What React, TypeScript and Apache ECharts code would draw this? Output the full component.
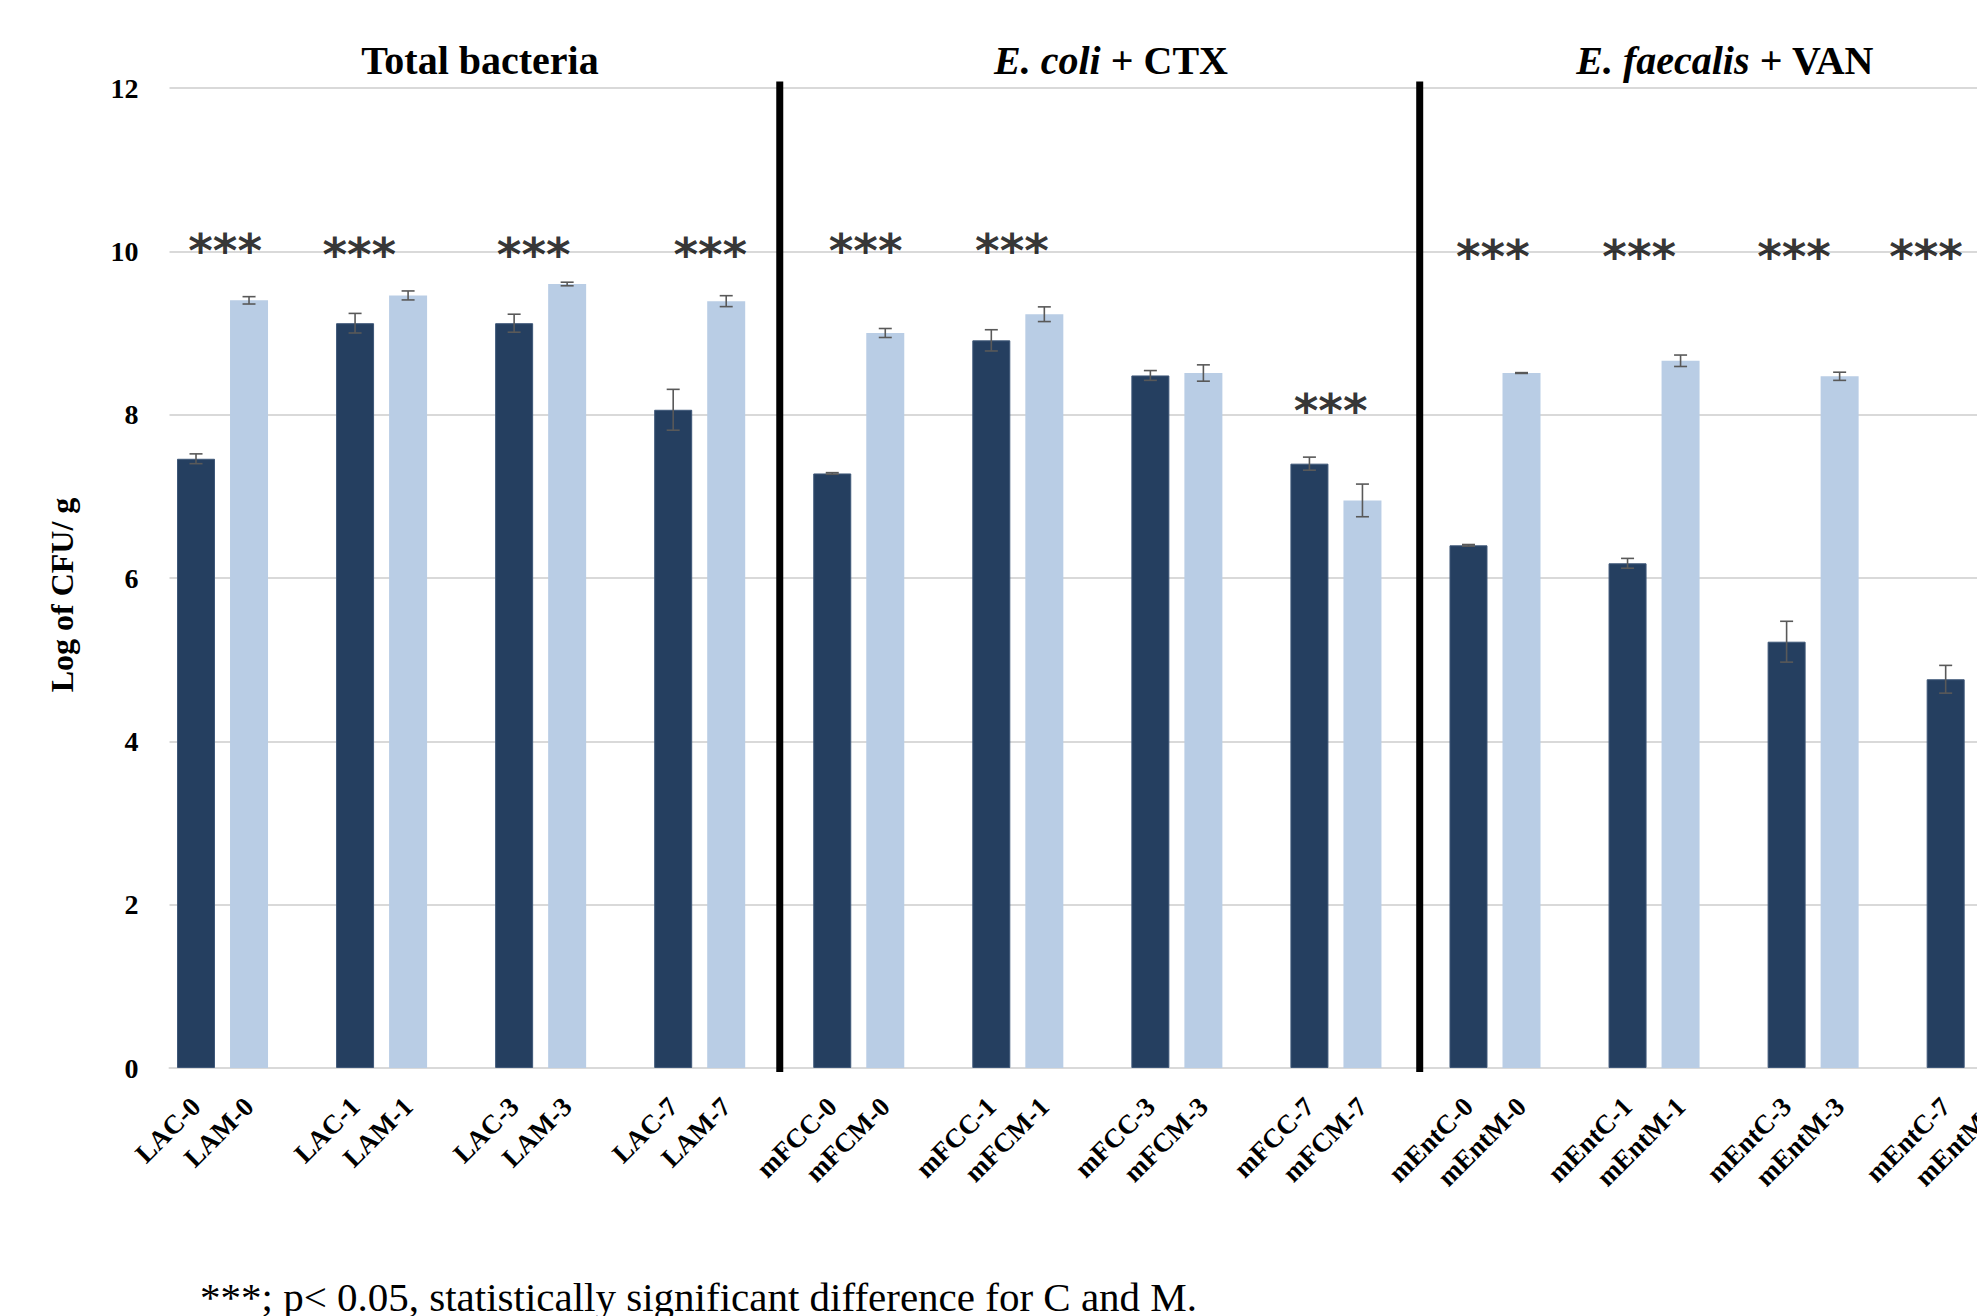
import React, { useEffect, useRef } from "react";
import * as echarts from "echarts";

const cLabels = ["LAC-0", "LAC-1", "LAC-3", "LAC-7", "mFCC-0", "mFCC-1", "mFCC-3", "mFCC-7", "mEntC-0", "mEntC-1", "mEntC-3", "mEntC-7"];
const mLabels = ["LAM-0", "LAM-1", "LAM-3", "LAM-7", "mFCM-0", "mFCM-1", "mFCM-3", "mFCM-7", "mEntM-0", "mEntM-1", "mEntM-3", "mEntM-7"];
const cValues = [7.46, 9.12, 9.12, 8.06, 7.28, 8.91, 8.48, 7.40, 6.40, 6.18, 5.22, 4.76];
const cErrors = [0.06, 0.12, 0.11, 0.25, 0.01, 0.13, 0.06, 0.08, 0.01, 0.06, 0.25, 0.17];
const mValues = [9.40, 9.46, 9.60, 9.39, 9.00, 9.23, 8.51, 6.95, 8.51, 8.66, 8.47, 8.45];
const mErrors = [0.045, 0.055, 0.022, 0.067, 0.055, 0.09, 0.1, 0.2, 0.005, 0.07, 0.05, 0.05];
// significance marks: x in slot units, y in log units
const starX = [1.05, 3.58, 6.87, 10.2, 13.13, 15.89, 21.9, 24.96, 27.72, 30.64, 33.13];
const starY = [10.11, 10.06, 10.06, 10.06, 10.11, 10.11, 8.15, 10.03, 10.03, 10.03, 10.03];
const separators = [11.51, 23.58];
const yTicks = { min: 0, max: 12, interval: 2 };

const SERIF = "'Liberation Serif', 'Times New Roman', serif";

export default function App() {
  const ref = useRef<HTMLDivElement>(null);
  useEffect(() => {
    if (!ref.current) return;
    const chart = echarts.init(ref.current, undefined, { renderer: "svg" });

    const categories: string[] = [];
    const darkData: (number | null)[] = [];
    const lightData: (number | null)[] = [];
    const errData: number[][] = [];
    cLabels.forEach((c, g) => {
      categories.push(c, mLabels[g], "");
      darkData.push(cValues[g], null, null);
      lightData.push(null, mValues[g], null);
      errData.push([g * 3, cValues[g] - cErrors[g], cValues[g] + cErrors[g]]);
      errData.push([g * 3 + 1, mValues[g] - mErrors[g], mValues[g] + mErrors[g]]);
    });
    const slotW = 53.02;

    const option: any = {
      animation: false,
      backgroundColor: "#ffffff",
      grid: { left: 169.5, top: 88, width: slotW * categories.length, height: 980, containLabel: false },
      xAxis: [
        {
          type: "category",
          data: categories,
          axisLine: { show: true, lineStyle: { color: "#D9D9D9", width: 2 } },
          axisTick: { show: false },
          axisLabel: {
            interval: 0,
            rotate: 45,
            margin: 34,
            fontFamily: SERIF,
            fontWeight: "bold",
            fontSize: 27,
            color: "#000",
          },
        },
        { type: "value", min: 0, max: categories.length, show: false },
      ],
      yAxis: {
        type: "value",
        min: yTicks.min,
        max: yTicks.max,
        interval: yTicks.interval,
        axisLine: { show: false },
        axisTick: { show: false },
        splitLine: { lineStyle: { color: "#D9D9D9", width: 2 } },
        axisLabel: { margin: 31, fontFamily: SERIF, fontWeight: "bold", fontSize: 28, color: "#000" },
      },
      series: [
        {
          type: "bar",
          name: "C",
          data: darkData,
          barWidth: 38,
          barGap: "-100%",
          itemStyle: { color: "#253F60", borderColor: "#3E5778", borderWidth: 1 },
          silent: true,
        },
        {
          type: "bar",
          name: "M",
          data: lightData,
          barWidth: 38,
          barGap: "-100%",
          itemStyle: { color: "#B9CDE5" },
          silent: true,
        },
        {
          type: "custom",
          name: "err",
          data: errData,
          encode: { x: 0, y: [1, 2] },
          silent: true,
          z: 5,
          renderItem: (params: any, api: any) => {
            const x = api.value(0);
            const p1 = api.coord([x, api.value(1)]);
            const p2 = api.coord([x, api.value(2)]);
            const cap = 6.5;
            const st = { stroke: "#595959", lineWidth: 1.6 };
            return {
              type: "group",
              children: [
                { type: "line", shape: { x1: p1[0], y1: p1[1], x2: p2[0], y2: p2[1] }, style: st },
                { type: "line", shape: { x1: p1[0] - cap, y1: p1[1], x2: p1[0] + cap, y2: p1[1] }, style: st },
                { type: "line", shape: { x1: p2[0] - cap, y1: p2[1], x2: p2[0] + cap, y2: p2[1] }, style: st },
              ],
            };
          },
        },
        {
          type: "scatter",
          name: "stars",
          xAxisIndex: 1,
          data: starX.map((x, i) => [x, starY[i]]),
          symbol: "circle",
          symbolSize: 1,
          itemStyle: { color: "rgba(0,0,0,0)" },
          silent: true,
          label: {
            show: true,
            position: "inside",
            formatter: "***",
            fontFamily: "'DejaVu Sans', sans-serif",
            fontWeight: "bold",
            fontSize: 47,
            color: "#000",
            offset: [0, 8],
          },
        },
        ...separators.map((s) => ({
          type: "line",
          xAxisIndex: 1,
          data: [
            [s, -0.05],
            [s, 12.08],
          ],
          clip: false,
          symbol: "none",
          silent: true,
          z: 6,
          lineStyle: { color: "#000", width: 7 },
        })),
      ],
      graphic: [
        {
          type: "text",
          x: 480,
          y: 60,
          style: { text: "Total bacteria", font: `bold 40px ${SERIF}`, fill: "#000", align: "center", verticalAlign: "middle" },
        },
        {
          type: "text",
          x: 1111,
          y: 60,
          style: {
            text: "{i|E. coli} + CTX",
            font: `bold 40px ${SERIF}`,
            fill: "#000",
            align: "center",
            verticalAlign: "middle",
            rich: { i: { fontStyle: "italic", fontWeight: "bold", fontSize: 40, fontFamily: SERIF } },
          },
        },
        {
          type: "text",
          x: 1725,
          y: 60,
          style: {
            text: "{i|E. faecalis} + VAN",
            font: `bold 40px ${SERIF}`,
            fill: "#000",
            align: "center",
            verticalAlign: "middle",
            rich: { i: { fontStyle: "italic", fontWeight: "bold", fontSize: 40, fontFamily: SERIF } },
          },
        },
        {
          type: "text",
          x: 62,
          y: 595,
          rotation: Math.PI / 2,
          style: { text: "Log of CFU/ g", font: `bold 32px ${SERIF}`, fill: "#000", align: "center", verticalAlign: "middle" },
        },
        {
          type: "text",
          x: 200,
          y: 1297,
          style: {
            text: "***; p< 0.05, statistically significant difference for C and M.",
            font: `41px ${SERIF}`,
            fill: "#000",
            align: "left",
            verticalAlign: "middle",
          },
        },
      ],
    };
    chart.setOption(option);
    return () => chart.dispose();
  }, []);
  return (
    <div
      ref={ref}
      style={{ position: "fixed", left: 0, top: 0, width: 2100, height: 1316, background: "#fff" }}
    />
  );
}
